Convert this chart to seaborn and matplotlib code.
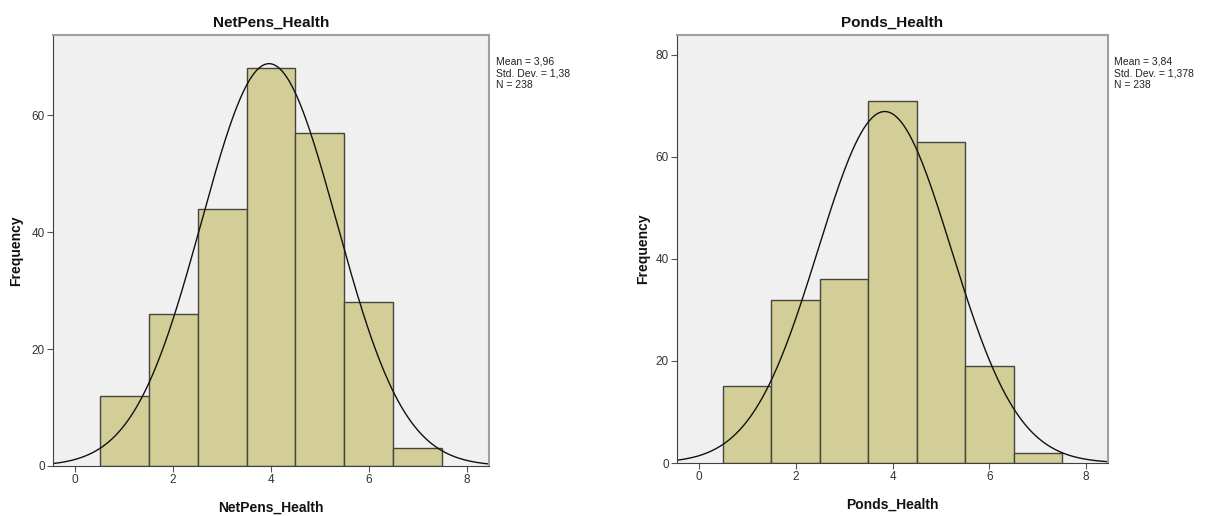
import numpy as np
import pandas as pd
import matplotlib
matplotlib.use("Agg")
import matplotlib.pyplot as plt
import seaborn as sns

# Data
bin_centers = [1, 2, 3, 4, 5, 6, 7]
netpens_counts = [12, 26, 44, 68, 57, 28, 3]
ponds_counts = [15, 32, 36, 71, 63, 19, 2]
netpens_stats = {"mean": 3.96, "sd": 1.38, "n": 238}
ponds_stats = {"mean": 3.84, "sd": 1.378, "n": 238}
netpens_stats_text = "Mean = 3,96\nStd. Dev. = 1,38\nN = 238"
ponds_stats_text = "Mean = 3,84\nStd. Dev. = 1,378\nN = 238"
x_ticks = [0, 2, 4, 6, 8]
netpens_yticks = [0, 20, 40, 60]
ponds_yticks = [0, 20, 40, 60, 80]

sns.set_theme(style="white")
plt.rcParams['font.family'] = ['Liberation Sans', 'DejaVu Sans']

W, H = 1211, 516
fig = plt.figure(figsize=(W / 100, H / 100), dpi=100)
fig.patch.set_facecolor("white")

def frac(x0, y0, x1, y1):
    return [x0 / W, (H - y1) / H, (x1 - x0) / W, (y1 - y0) / H]

panels = [
    dict(rect=frac(53, 35, 489, 466), counts=netpens_counts, stats=netpens_stats,
         text=netpens_stats_text, title="NetPens_Health", ylim=73.7, yticks=netpens_yticks,
         ylabpad=6),
    dict(rect=frac(677, 35, 1108, 463), counts=ponds_counts, stats=ponds_stats,
         text=ponds_stats_text, title="Ponds_Health", ylim=83.9, yticks=ponds_yticks,
         ylabpad=4),
]

for p in panels:
    ax = fig.add_axes(p["rect"])
    ax.set_facecolor("#F0F0F0")
    df = pd.DataFrame({"x": bin_centers, "w": p["counts"]})
    sns.histplot(data=df, x="x", weights="w", binwidth=1, binrange=(0.5, 7.5), ax=ax,
                 color="#D3CE97", edgecolor="#45453C", linewidth=1.0, alpha=1.0)
    xs = np.linspace(-0.45, 8.45, 400)
    m, s, n = p["stats"]["mean"], p["stats"]["sd"], p["stats"]["n"]
    ys = n * 1.0 / (s * np.sqrt(2 * np.pi)) * np.exp(-0.5 * ((xs - m) / s) ** 2)
    sns.lineplot(x=xs, y=ys, ax=ax, color="#111111", linewidth=1.0)
    ax.set_xlim(-0.45, 8.45)
    ax.set_ylim(0, p["ylim"])
    ax.set_xticks(x_ticks)
    ax.set_yticks(p["yticks"])
    ax.tick_params(axis="both", which="both", direction="out", length=4, width=0.8,
                   color="#555555", labelsize=8.5, labelcolor="#333333", pad=2,
                   bottom=True, left=True)
    for side, sp in ax.spines.items():
        sp.set_color("#A0A0A0")
        sp.set_linewidth(1.5)
    ax.spines["left"].set_color("#404040")
    ax.spines["left"].set_linewidth(0.8)
    ax.spines["bottom"].set_color("#404040")
    ax.spines["bottom"].set_linewidth(0.8)
    ax.set_title(p["title"], fontsize=11, fontweight="bold", color="#111111", pad=6)
    ax.set_xlabel(p["title"], fontsize=10, fontweight="bold", color="#111111", labelpad=10)
    ax.set_ylabel("Frequency", fontsize=10, fontweight="bold", color="#111111",
                  labelpad=p["ylabpad"])
    ax.text(1.015, 0.95, p["text"], transform=ax.transAxes, ha="left", va="top",
            fontsize=7.5, color="#222222", linespacing=1.2)

fig.savefig("out.png", dpi=100)
